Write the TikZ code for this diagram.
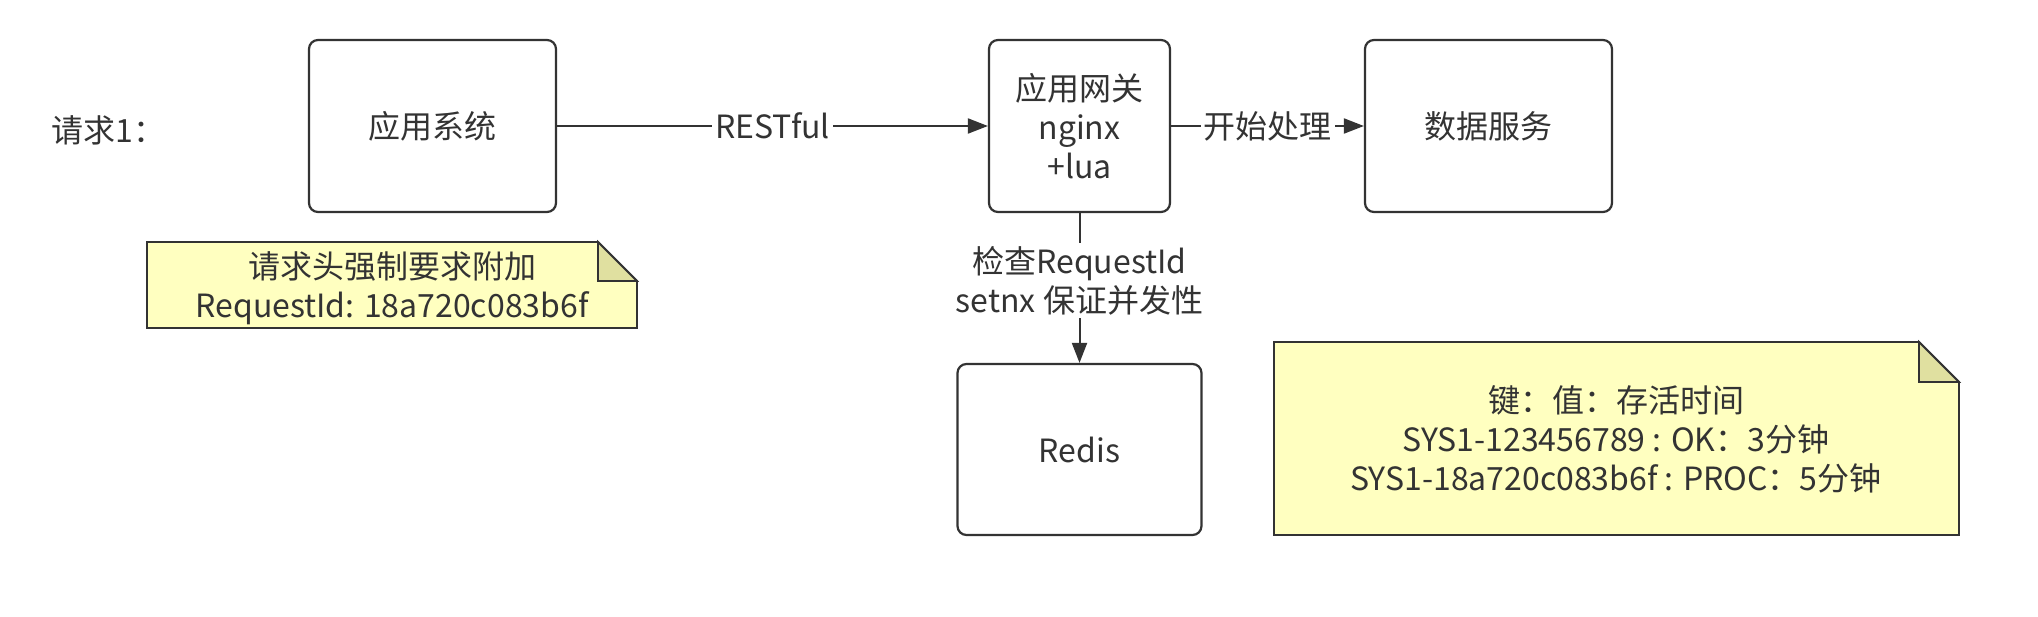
\documentclass[tikz,border=0pt]{standalone}
\usepackage{fontspec}
\setmainfont{Noto Sans CJK SC}
\usetikzlibrary{arrows.meta}
\definecolor{ink}{HTML}{333333}
\definecolor{notefill}{HTML}{FFFFC0}
\definecolor{foldfill}{HTML}{E0E0A0}
\begin{document}
\begin{tikzpicture}[x=1pt,y=-1pt,
  txt/.style={text=ink, align=center, font=\fontsize{32}{39}\selectfont},
  box/.style={txt, draw=ink, line width=2.2pt, rounded corners=9pt, fill=white, inner sep=0pt},
  lbl/.style={txt, fill=white, inner sep=3pt},
  conn/.style={draw=ink, line width=2pt},
  arr/.style={conn, -{Triangle[length=20pt,width=15pt]}},
  note/.style={draw=ink, line width=1.8pt, fill=notefill, line join=miter},
  fold/.style={draw=ink, line width=1.8pt, fill=foldfill, line join=miter}
]
\useasboundingbox (0,0) rectangle (2038,616);
\fill[white] (0,0) rectangle (2038,616);

\node[txt, anchor=west] (req) at (48,130) {请求1：};

\node[box, minimum width=247pt, minimum height=172pt] (sys) at (432.5,126) {应用系统};
\node[box, minimum width=181pt, minimum height=172pt] (gw) at (1079.5,126) {应用网关\\nginx\\+lua};
\node[box, minimum width=247pt, minimum height=172pt] (data) at (1488.5,126) {数据服务};
\node[box, minimum width=244pt, minimum height=171pt] (redis) at (1079.5,449.5) {Redis};

\draw[arr] (sys.east) -- node[lbl] (l1) {RESTful} (gw.west);
\draw[arr] (gw.east) -- node[lbl] (l2) {开始处理} (data.west);
\draw[arr] (gw.south) -- node[lbl, pos=0.45] (l3) {检查RequestId\\setnx 保证并发性} (redis.north);

% note 1
\path[note] (147,242) -- (598,242) -- (637,281) -- (637,328) -- (147,328) -- cycle;
\path[fold] (598,242) -- (598,281) -- (637,281) -- cycle;
\node[txt] (n1) at (392,288.5) {请求头强制要求附加\\RequestId: 18a720c083b6f};

% note 2
\path[note] (1274,342) -- (1919,342) -- (1959,382) -- (1959,535) -- (1274,535) -- cycle;
\path[fold] (1919,342) -- (1919,382) -- (1959,382) -- cycle;
\node[txt] (n2) at (1616,439) {键：值：存活时间\\SYS1-123456789 : OK：3分钟\\SYS1-18a720c083b6f : PROC：5分钟};
\end{tikzpicture}
\end{document}
